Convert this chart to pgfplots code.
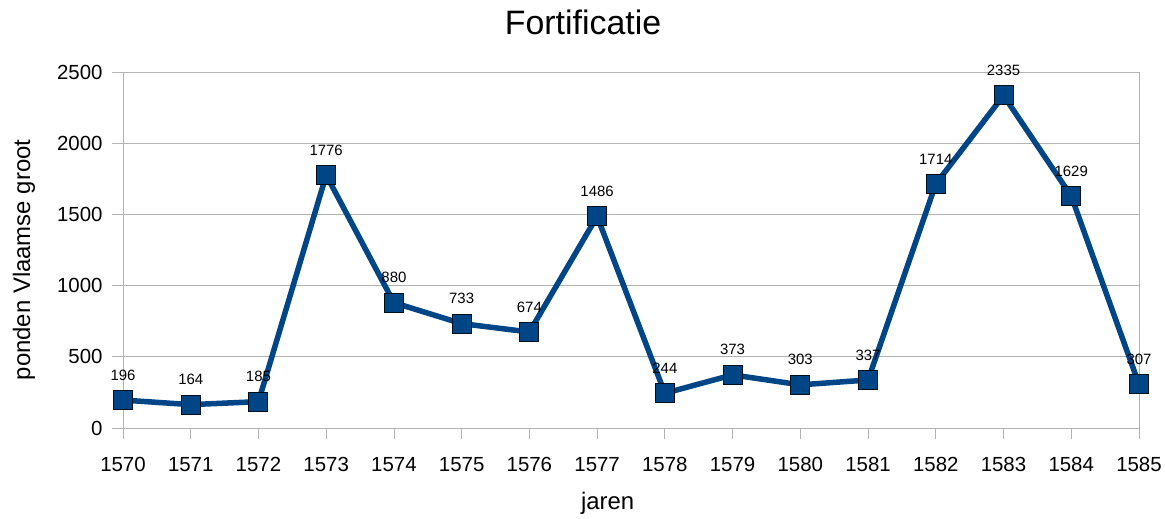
\documentclass[border=0pt]{standalone}
\usepackage{pgfplots}
\pgfplotsset{compat=1.18}
\usepackage{fontspec}
\setmainfont{Liberation Sans}
\definecolor{lineblue}{HTML}{004586}
\definecolor{gridgray}{HTML}{B3B3B3}
\begin{document}
\begin{tikzpicture}
\begin{axis}[
  scale only axis,
  width=1016bp, height=356bp,
  xmin=1570, xmax=1585,
  ymin=0, ymax=2500,
  xtick={1570,1571,...,1585},
  ytick={0,500,...,2500},
  /pgf/number format/1000 sep={},
  /pgf/number format/assume math mode=true,
  tick label style={font=\fontsize{20.5}{24}\selectfont},
  axis line style={gridgray, line width=0.8bp},
  tick style={gridgray, line width=0.8bp},
  tick align=outside,
  major tick length=11bp,
  xtick pos=bottom, ytick pos=left,
  ymajorgrids,
  major grid style={gridgray, line width=0.8bp},
  xticklabel style={yshift=-15bp},
  yticklabel style={xshift=-6bp},
  title={Fortificatie},
  title style={font=\fontsize{34}{38}\selectfont, at={(axis description cs:0.4528,1.1236)}, anchor=center},
  xlabel={jaren},
  ylabel={ponden Vlaamse groot},
  label style={font=\fontsize{24}{28}\selectfont},
  xlabel style={at={(axis description cs:0.477,-0.213)}, anchor=center},
  ylabel style={at={(axis description cs:-0.0974,0.472)}, anchor=center},
  clip=false,
  nodes near coords,
  every node near coord/.append style={font=\fontsize{15}{17}\selectfont, black, anchor=south, yshift=16bp},
]
\addplot[lineblue, line width=5.5bp, mark=square*, mark size=9.5bp,
  mark options={fill=lineblue, draw=black!80!lineblue, line width=1bp}]
coordinates {
(1570,196) (1571,164) (1572,185) (1573,1776) (1574,880) (1575,733)
(1576,674) (1577,1486) (1578,244) (1579,373) (1580,303) (1581,337)
(1582,1714) (1583,2335) (1584,1629) (1585,307)
};
\end{axis}
\path[use as bounding box] (-123bp,-87bp) rectangle (1042bp,428bp);
\end{tikzpicture}
\end{document}
